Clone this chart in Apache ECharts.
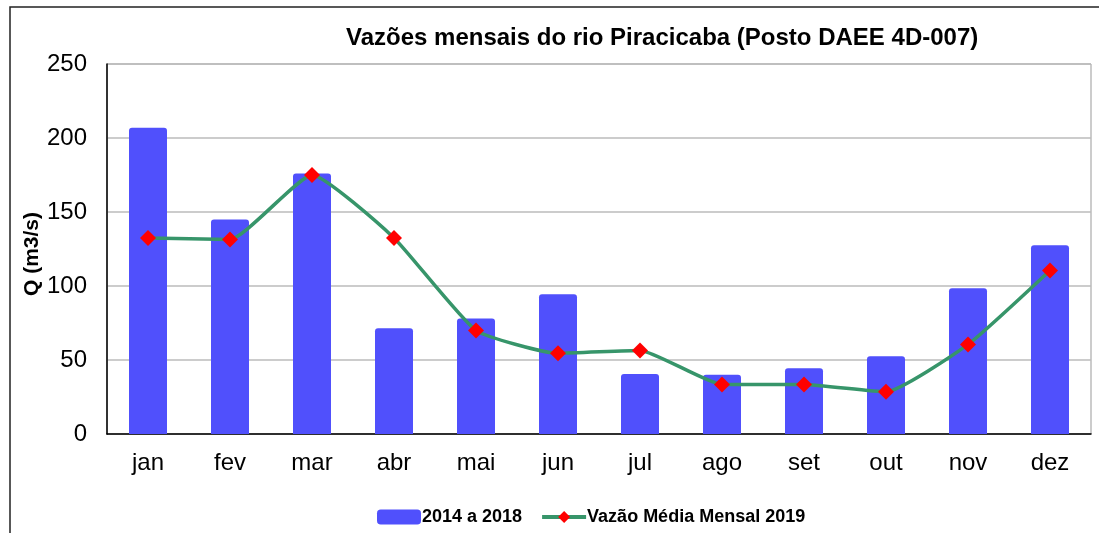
<!DOCTYPE html>
<html>
<head>
<meta charset="utf-8">
<script src="https://cdn.jsdelivr.net/npm/echarts@6/dist/echarts.min.js"></script>
<style>
html, body { margin: 0; padding: 0; background: #fff; }
#chart { width: 1099px; height: 533px; }
</style>
</head>
<body>
<div id="chart"></div>
<script>
var meses = ['jan', 'fev', 'mar', 'abr', 'mai', 'jun', 'jul', 'ago', 'set', 'out', 'nov', 'dez'];
var media20142018 = [207, 145, 176, 71.5, 78, 94.5, 40.5, 40, 44.5, 52.5, 98.5, 127.5];
var media2019 = [132.5, 131.5, 175, 132.5, 70, 54.5, 56.5, 33.5, 33.5, 28.5, 60.5, 110.5];

var myChart = echarts.init(document.getElementById('chart'));
var fonte = 'Liberation Sans, Arial, sans-serif';

option = {
	animation: false,
	backgroundColor: '#fff',
	title: {
		text: 'Vazões mensais do rio Piracicaba (Posto DAEE 4D-007)',
		left: 341,
		top: 21,
		textStyle: { fontFamily: fonte, fontSize: 24, fontWeight: 'bold', color: '#000' }
	},
	graphic: [{
		type: 'rect',
		shape: { x: 10, y: 7, width: 1100, height: 560 },
		style: { fill: 'none', stroke: '#222', lineWidth: 1.5 },
		silent: true
	}],
	legend: {
		bottom: 2,
		left: 372,
		itemGap: 18,
		itemWidth: 44,
		itemHeight: 15,
		lineStyle: { width: 4 },
		textStyle: { fontFamily: fonte, fontSize: 18, fontWeight: 'bold', color: '#000', padding: [0, 0, 0, -4] },
		data: [
			{ name: '2014 a 2018', icon: 'roundRect' },
			{ name: 'Vazão Média Mensal 2019' }
		]
	},
	grid: {
		left: 107,
		right: 8,
		top: 64,
		bottom: 99,
		show: true,
		borderColor: '#999',
		borderWidth: 1
	},
	xAxis: {
		type: 'category',
		data: meses,
		axisLine: { lineStyle: { color: '#000', width: 1.5 } },
		axisTick: { show: false },
		axisLabel: { fontFamily: fonte, fontSize: 24, color: '#000', margin: 17 }
	},
	yAxis: {
		type: 'value',
		min: 0,
		max: 250,
		interval: 50,
		name: 'Q (m3/s)',
		nameLocation: 'middle',
		nameGap: 64,
		nameMoveOverlap: false,
		nameTextStyle: { fontFamily: fonte, fontSize: 21, fontWeight: 'bold', color: '#000', padding: [0, 10, 0, 0] },
		axisLine: { show: true, lineStyle: { color: '#000', width: 1.5 } },
		axisTick: { show: false },
		axisLabel: { fontFamily: fonte, fontSize: 24, color: '#000', margin: 20 },
		splitLine: { lineStyle: { color: '#bbb', width: 1.5 } }
	},
	series: [{
		name: '2014 a 2018',
		type: 'bar',
		data: media20142018,
		barWidth: 38,
		itemStyle: { color: '#5050fc', borderRadius: [3, 3, 0, 0] }
	}, {
		name: 'Vazão Média Mensal 2019',
		type: 'line',
		data: media2019,
		smooth: 0.15,
		symbol: 'diamond',
		symbolSize: 16,
		lineStyle: { color: '#37956a', width: 3.5 },
		itemStyle: { color: '#ff0000' }
	}]
};

myChart.setOption(option);
</script>
</body>
</html>
